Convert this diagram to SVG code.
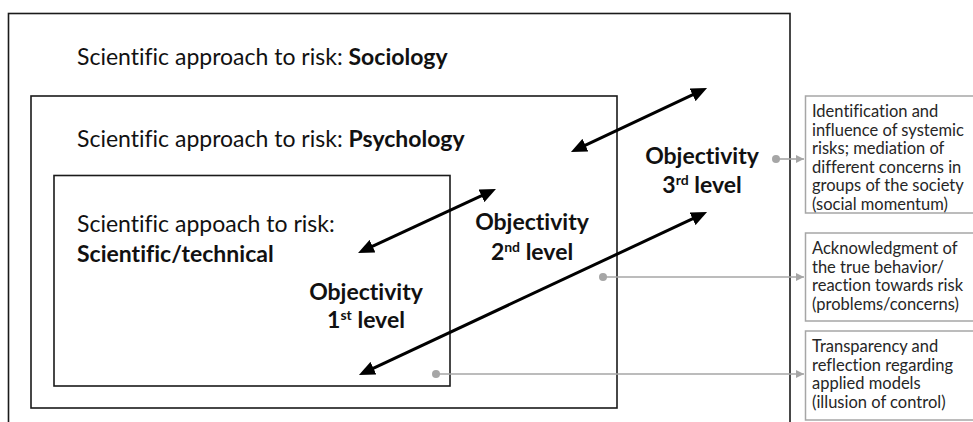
<svg xmlns="http://www.w3.org/2000/svg" width="973" height="422" viewBox="0 0 973 422">
  <style>
    text { font-variant-ligatures: none; }
    .frame { fill: none; stroke: #1a1a1a; stroke-width: 1.6; }
    .note-box { fill: #ffffff; stroke: #a6a6a6; stroke-width: 1.5; }
    .title { font-family: Lato, "Liberation Sans", sans-serif; font-size: 23px; fill: #111111; }
    .b { font-weight: bold; }
    .level { font-family: Lato, "Liberation Sans", sans-serif; font-size: 23px; font-weight: bold; fill: #111111; text-anchor: middle; }
    .sup { font-size: 14px; }
    .note { font-family: Lato, "Liberation Sans", sans-serif; font-size: 16.5px; fill: #262626; }
    .span { stroke: #000000; stroke-width: 3; fill: none; marker-start: url(#head); marker-end: url(#head); }
    .lead { stroke: #a6a6a6; stroke-width: 1.6; fill: none; marker-end: url(#small-head); }
    .dot { fill: #a6a6a6; }
  </style>
  <defs>
    <marker id="head" viewBox="0 0 16 14" markerUnits="userSpaceOnUse" markerWidth="16" markerHeight="14" refX="8" refY="7" orient="auto-start-reverse">
      <path d="M0,0 L16,7 L0,14 Z" fill="#000000"/>
    </marker>
    <marker id="small-head" viewBox="0 0 8 8" markerUnits="userSpaceOnUse" markerWidth="8" markerHeight="8" refX="8" refY="4" orient="auto">
      <path d="M0,0 L8,4 L0,8 Z" fill="#a6a6a6"/>
    </marker>
  </defs>

  <!-- nested scopes -->
  <g id="sociology">
    <rect class="frame" x="8.5" y="13.5" width="781.5" height="430"/>
    <text class="title" x="77" y="65">Scientific approach to risk: <tspan class="b">Sociology</tspan></text>
  </g>
  <g id="psychology">
    <rect class="frame" x="31" y="96" width="586" height="312"/>
    <text class="title" x="77" y="147">Scientific approach to risk: <tspan class="b">Psychology</tspan></text>
  </g>
  <g id="technical">
    <rect class="frame" x="54" y="175.5" width="396" height="210.5"/>
    <text class="title" x="77" y="232">Scientific appoach to risk:</text>
    <text class="title b" x="77" y="262">Scientific/technical</text>
  </g>

  <!-- objectivity labels -->
  <g id="level-1">
    <text class="level" x="366" y="300">Objectivity</text>
    <text class="level" x="366" y="328">1<tspan class="sup" dy="-8">st</tspan><tspan dy="8"> level</tspan></text>
  </g>
  <g id="level-2">
    <text class="level" x="532" y="230">Objectivity</text>
    <text class="level" x="532" y="260">2<tspan class="sup" dy="-8">nd</tspan><tspan dy="8"> level</tspan></text>
  </g>
  <g id="level-3">
    <text class="level" x="702" y="164">Objectivity</text>
    <text class="level" x="702" y="193">3<tspan class="sup" dy="-8">rd</tspan><tspan dy="8"> level</tspan></text>
  </g>

  <!-- explanation notes -->
  <g id="note-1">
    <rect class="note-box" x="805.5" y="96" width="180" height="117"/>
    <text class="note" x="812">
      <tspan x="812" y="117">Identification and</tspan>
      <tspan x="812" y="135.5">influence of systemic</tspan>
      <tspan x="812" y="154">risks; mediation of</tspan>
      <tspan x="812" y="172.5">different concerns in</tspan>
      <tspan x="812" y="191">groups of the society</tspan>
      <tspan x="812" y="209.5">(social momentum)</tspan>
    </text>
  </g>
  <g id="note-2">
    <rect class="note-box" x="805.5" y="233" width="180" height="88"/>
    <text class="note" x="812">
      <tspan x="812" y="254">Acknowledgment of</tspan>
      <tspan x="812" y="272.5">the true behavior/</tspan>
      <tspan x="812" y="291">reaction towards risk</tspan>
      <tspan x="812" y="309.5">(problems/concerns)</tspan>
    </text>
  </g>
  <g id="note-3">
    <rect class="note-box" x="805.5" y="331" width="180" height="89"/>
    <text class="note" x="812">
      <tspan x="812" y="352">Transparency and</tspan>
      <tspan x="812" y="370.5">reflection regarding</tspan>
      <tspan x="812" y="389">applied models</tspan>
      <tspan x="812" y="407.5">(illusion of control)</tspan>
    </text>
  </g>

  <!-- connectors -->
  <g id="connectors">
    <line class="span" x1="365.3" y1="249.6" x2="488.7" y2="192.4"/>
    <line class="span" x1="366.2" y1="371.6" x2="699.8" y2="215.4"/>
    <line class="span" x1="578.2" y1="148.6" x2="699.8" y2="91.4"/>

    <circle class="dot" cx="776" cy="159" r="4"/>
    <line class="lead" x1="776" y1="159" x2="804" y2="159"/>
    <circle class="dot" cx="603" cy="277" r="4"/>
    <line class="lead" x1="603" y1="277" x2="804" y2="277"/>
    <circle class="dot" cx="436" cy="374" r="4"/>
    <line class="lead" x1="436" y1="374" x2="804" y2="374"/>
  </g>
</svg>
